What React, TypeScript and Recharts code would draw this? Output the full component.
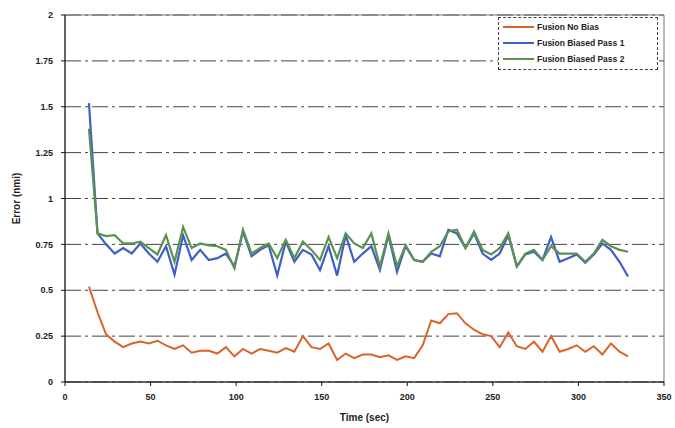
import React from "react";
import {
  LineChart,
  Line,
  XAxis,
  YAxis,
  CartesianGrid,
  Legend,
  ReferenceArea,
} from "recharts";

const times = [
  14, 19, 24, 29, 34, 39, 44, 49, 54, 59, 64, 69, 74, 79, 84, 89, 94, 99, 104, 109, 114, 119,
  124, 129, 134, 139, 144, 149, 154, 159, 164, 169, 174, 179, 184, 189, 194, 199, 204, 209,
  214, 219, 224, 229, 234, 239, 244, 249, 254, 259, 264, 269, 274, 279, 284, 289, 294, 299,
  304, 309, 314, 319, 324, 329,
];

const noBias = [
  0.52, 0.38, 0.26, 0.22, 0.19, 0.21, 0.22, 0.21, 0.225, 0.2,
  0.18, 0.2, 0.16, 0.17, 0.17, 0.155, 0.19, 0.14, 0.18, 0.155,
  0.18, 0.17, 0.16, 0.185, 0.165, 0.25, 0.19, 0.18, 0.21, 0.12,
  0.155, 0.13, 0.15, 0.15, 0.135, 0.145, 0.12, 0.14, 0.13, 0.2,
  0.335, 0.32, 0.37, 0.375, 0.32, 0.285, 0.26, 0.25, 0.19, 0.27,
  0.195, 0.18, 0.22, 0.165, 0.25, 0.165, 0.18, 0.2, 0.165, 0.195,
  0.15, 0.21, 0.165, 0.14,
];

const biasedPass1 = [
  1.52, 0.81, 0.75, 0.7, 0.73, 0.7, 0.755, 0.7, 0.655, 0.74,
  0.585, 0.8, 0.665, 0.72, 0.665, 0.675, 0.7, 0.63, 0.82, 0.685,
  0.72, 0.745, 0.58, 0.765, 0.655, 0.72, 0.695, 0.61, 0.74, 0.58,
  0.8, 0.655, 0.7, 0.74, 0.61, 0.8, 0.6, 0.74, 0.665, 0.655,
  0.7, 0.685, 0.83, 0.81, 0.73, 0.81, 0.7, 0.665, 0.7, 0.8,
  0.63, 0.695, 0.71, 0.665, 0.79, 0.655, 0.675, 0.695, 0.65, 0.695,
  0.755, 0.72, 0.655, 0.575,
];

const biasedPass2 = [
  1.38, 0.81, 0.795, 0.8, 0.755, 0.755, 0.765, 0.73, 0.695, 0.8,
  0.655, 0.845, 0.73, 0.755, 0.745, 0.74, 0.72, 0.62, 0.83, 0.7,
  0.73, 0.755, 0.675, 0.775, 0.675, 0.765, 0.72, 0.665, 0.79, 0.675,
  0.81, 0.755, 0.73, 0.81, 0.63, 0.81, 0.63, 0.745, 0.665, 0.655,
  0.71, 0.74, 0.82, 0.83, 0.73, 0.82, 0.72, 0.695, 0.73, 0.81,
  0.63, 0.7, 0.72, 0.665, 0.74, 0.7, 0.7, 0.7, 0.655, 0.7,
  0.775, 0.74, 0.72, 0.71,
];

const seriesNames = ["Fusion No Bias", "Fusion Biased Pass 1", "Fusion Biased Pass 2"];

const xTicks = [0, 50, 100, 150, 200, 250, 300, 350];
const yTicks = [0, 0.25, 0.5, 0.75, 1, 1.25, 1.5, 1.75, 2];

const data = times.map((t, i) => ({
  time: t,
  noBias: noBias[i],
  pass1: biasedPass1[i],
  pass2: biasedPass2[i],
}));

const font = "'Liberation Sans', Arial, sans-serif";

function LegendBox(props: any) {
  const payload = [...(props.payload || [])].sort(
    (a: any, b: any) => seriesNames.indexOf(a.value) - seriesNames.indexOf(b.value)
  );
  return (
    <div
      style={{
        border: "1px dashed #444",
        background: "#fff",
        padding: "1px 4px",
        width: 150,
        height: 49,
        fontFamily: font,
      }}
    >
      {payload.map((entry: any) => (
        <div
          key={entry.value}
          style={{ display: "flex", alignItems: "center", height: 16 }}
        >
          <span
            style={{
              display: "inline-block",
              width: 31,
              borderTop: `2px solid ${entry.color}`,
              marginRight: 3,
            }}
          />
          <span style={{ fontSize: 8.5, fontWeight: "bold", color: "#222" }}>
            {entry.value}
          </span>
        </div>
      ))}
    </div>
  );
}

export default function App() {
  return (
    <div style={{ position: "absolute", left: 0, top: 0, background: "#fff" }}>
      <LineChart
        width={675}
        height={428}
        data={data}
        margin={{ top: 15, right: 11, left: 0, bottom: 0 }}
      >
        <CartesianGrid
          horizontal
          vertical={false}
          stroke="#444"
          strokeDasharray="16 4 3 4"
        />
        <ReferenceArea
          x1={0}
          x2={350}
          y1={0}
          y2={2}
          fill="none"
          fillOpacity={0}
          stroke="#777"
          ifOverflow="visible"
        />
        <XAxis
          dataKey="time"
          type="number"
          domain={[0, 350]}
          ticks={xTicks}
          height={46}
          stroke="#111"
          tickSize={4}
          tickMargin={8}
          tick={{ fontSize: 9, fontWeight: "bold", fill: "#222", fontFamily: font }}
          label={{
            value: "Time (sec)",
            position: "insideBottom",
            offset: 7,
            style: { fontSize: 10, fontWeight: "bold", fill: "#222", fontFamily: font },
          }}
        />
        <YAxis
          type="number"
          domain={[0, 2]}
          ticks={yTicks}
          width={65}
          stroke="#111"
          tickSize={4}
          tickMargin={8}
          tick={{ fontSize: 9, fontWeight: "bold", fill: "#222", fontFamily: font }}
          label={{
            value: "Error (nmi)",
            angle: -90,
            position: "insideLeft",
            offset: 16,
            style: {
              textAnchor: "middle",
              fontSize: 10,
              fontWeight: "bold",
              fill: "#222",
              fontFamily: font,
            },
          }}
        />
        <Legend
          layout="horizontal"
          verticalAlign="middle"
          align="center"
          width={160}
          wrapperStyle={{ top: 17, left: 498, width: 160 }}
          content={<LegendBox />}
        />
        <Line
          type="linear"
          dataKey="noBias"
          name={seriesNames[0]}
          stroke="#D8642C"
          strokeWidth={2}
          dot={false}
          isAnimationActive={false}
        />
        <Line
          type="linear"
          dataKey="pass1"
          name={seriesNames[1]}
          stroke="#3F5FC8"
          strokeWidth={2.2}
          dot={false}
          isAnimationActive={false}
        />
        <Line
          type="linear"
          dataKey="pass2"
          name={seriesNames[2]}
          stroke="#5C9150"
          strokeWidth={2.2}
          dot={false}
          isAnimationActive={false}
        />
      </LineChart>
    </div>
  );
}
